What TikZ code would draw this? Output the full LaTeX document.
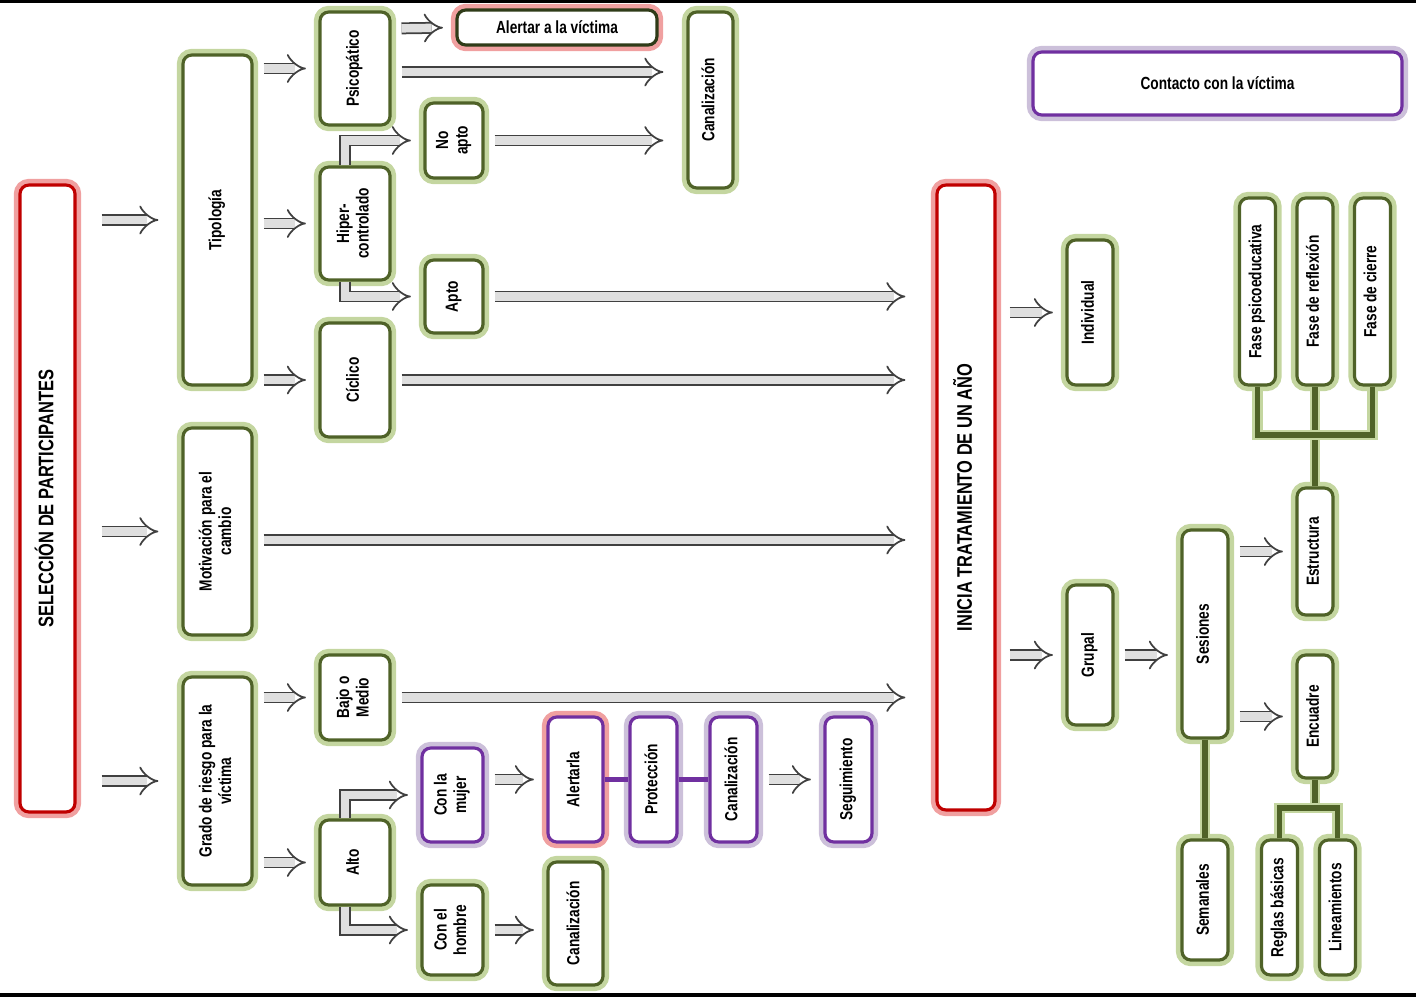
\documentclass[tikz,border=0pt]{standalone}
\usepackage{fontspec}
\setmainfont[FakeStretch=0.78]{Liberation Sans}
\usepackage{graphicx}
\usetikzlibrary{arrows.meta}

\definecolor{boxgreen}{RGB}{79,98,40}
\definecolor{glowgreen}{RGB}{196,214,160}
\definecolor{boxred}{RGB}{192,0,0}
\definecolor{glowred}{RGB}{240,160,160}
\definecolor{boxpurple}{RGB}{112,48,160}
\definecolor{glowpurple}{RGB}{204,192,218}

\newcommand{\vlabel}[1]{\rotatebox{90}{\begin{tabular}{@{}c@{}}#1\end{tabular}}}

\tikzset{
  box/.style={draw, fill=white, rounded corners=5pt, line width=1.8pt, inner sep=1pt,
    font=\bfseries\fontsize{10}{11}\selectfont},
  glow/.style={preaction={draw=#1, line width=7pt}},
  gbox/.style={box, draw=boxgreen, glow=glowgreen},
  rbox/.style={box, draw=boxred, glow=glowred},
  pbox/.style={box, draw=boxpurple, glow=glowpurple},
  fat/.style={double=gray!25, double distance=4.8pt, line width=1pt, draw=black!75,
    -{Implies}, shorten <=0.2cm, shorten >=0.25cm},
  tree/.style={line width=3pt, draw=boxgreen, preaction={draw=glowgreen, line width=6pt}},
}

\begin{document}
\begin{tikzpicture}[x=0.02cm, y=-0.02cm]
  \useasboundingbox (0,0) rectangle (1416,997);
  \fill[black] (0,0) rectangle (1416,3);
  \fill[black] (0,993) rectangle (1416,997);

  % primera columna
  \node[rbox, minimum width=1.1cm, minimum height=12.54cm, font=\bfseries\fontsize{12}{13}\selectfont]
    (sel) at (47.5, 498.5) {\vlabel{SELECCIÓN DE PARTICIPANTES}};

  \node[gbox, minimum width=1.38cm, minimum height=6.6cm] (tipo) at (217.5, 220) {\vlabel{Tipología}};
  \node[gbox, minimum width=1.38cm, minimum height=4.14cm] (motiv) at (217.5, 531.5) {\vlabel{Motivación para el\\cambio}};
  \node[gbox, minimum width=1.38cm, minimum height=4.16cm] (grado) at (217.5, 781) {\vlabel{Grado de riesgo para la\\víctima}};

  \node[gbox, minimum width=1.4cm, minimum height=2.26cm] (psico) at (355, 68.5) {\vlabel{Psicopático}};
  \node[gbox, minimum width=1.4cm, minimum height=2.26cm] (hiper) at (355, 223.5) {\vlabel{Hiper-\\controlado}};
  \node[gbox, minimum width=1.4cm, minimum height=2.28cm] (ciclo) at (355, 380) {\vlabel{Cíclico}};
  \node[gbox, minimum width=1.4cm, minimum height=1.7cm] (bajo) at (355, 697.5) {\vlabel{Bajo o\\Medio}};
  \node[gbox, minimum width=1.4cm, minimum height=1.7cm] (alto) at (355, 862.5) {\vlabel{Alto}};

  \node[box, draw=boxgreen!60!black, glow=glowred, minimum width=4cm, minimum height=0.7cm] (alertv) at (557, 27.5) {Alertar a la víctima};
  \node[gbox, minimum width=1.16cm, minimum height=1.5cm] (noapto) at (454, 140.5) {\vlabel{No\\apto}};
  \node[gbox, minimum width=1.16cm, minimum height=1.46cm] (apto) at (454, 296.5) {\vlabel{Apto}};
  \node[gbox, minimum width=0.9cm, minimum height=3.52cm] (canaltop) at (710.5, 100) {\vlabel{Canalización}};

  \node[pbox, minimum width=1.22cm, minimum height=1.88cm] (mujer) at (452.5, 795) {\vlabel{Con la\\mujer}};
  \node[gbox, minimum width=1.22cm, minimum height=1.8cm] (hombre) at (452.5, 930) {\vlabel{Con el\\hombre}};
  \node[box, draw=boxpurple, glow=glowred, minimum width=1.1cm, minimum height=2.5cm] (alertarla) at (575.5, 779.5) {\vlabel{Alertarla}};
  \node[pbox, minimum width=0.94cm, minimum height=2.5cm] (protec) at (653.5, 779.5) {\vlabel{Protección}};
  \node[pbox, minimum width=0.94cm, minimum height=2.5cm] (canalmid) at (733.5, 779.5) {\vlabel{Canalización}};
  \node[pbox, minimum width=0.94cm, minimum height=2.5cm] (segui) at (848.5, 779.5) {\vlabel{Seguimiento}};
  \node[gbox, minimum width=1.1cm, minimum height=2.46cm] (canalbot) at (575.5, 923.5) {\vlabel{Canalización}};

  % tratamiento
  \node[pbox, minimum width=7.38cm, minimum height=1.26cm] (contacto) at (1217.5, 83.5) {Contacto con la víctima};
  \node[rbox, minimum width=1.16cm, minimum height=12.5cm, font=\bfseries\fontsize{12}{13}\selectfont]
    (inicia) at (966, 497.5) {\vlabel{INICIA TRATAMIENTO DE UN AÑO}};
  \node[gbox, minimum width=0.92cm, minimum height=2.9cm] (indiv) at (1090, 312.5) {\vlabel{Individual}};
  \node[gbox, minimum width=0.92cm, minimum height=2.8cm] (grupal) at (1090, 655) {\vlabel{Grupal}};
  \node[gbox, minimum width=0.92cm, minimum height=4.16cm] (sesion) at (1205, 634) {\vlabel{Sesiones}};
  \node[gbox, minimum width=0.72cm, minimum height=2.54cm] (estruc) at (1315, 551.5) {\vlabel{Estructura}};
  \node[gbox, minimum width=0.72cm, minimum height=2.46cm] (encuad) at (1315, 716.5) {\vlabel{Encuadre}};
  \node[gbox, minimum width=0.92cm, minimum height=2.4cm] (seman) at (1205, 900) {\vlabel{Semanales}};
  \node[gbox, minimum width=0.72cm, minimum height=2.7cm] (reglas) at (1279.5, 907.5) {\vlabel{Reglas básicas}};
  \node[gbox, minimum width=0.72cm, minimum height=2.7cm] (linea) at (1337.5, 907.5) {\vlabel{Lineamientos}};
  \node[gbox, minimum width=0.72cm, minimum height=3.74cm] (fase1) at (1257.5, 291.5) {\vlabel{Fase psicoeducativa}};
  \node[gbox, minimum width=0.72cm, minimum height=3.74cm] (fase2) at (1315, 291.5) {\vlabel{Fase de reflexión}};
  \node[gbox, minimum width=0.72cm, minimum height=3.74cm] (fase3) at (1372.5, 291.5) {\vlabel{Fase de cierre}};

  \coordinate (fj) at (1315, 435);
  \coordinate (ej) at (1315, 808);

  % flechas
  \draw[fat, shorten <=0.5cm, shorten >=0.46cm] (sel.east |- tipo) -- (tipo.west);
  \draw[fat, shorten <=0.5cm, shorten >=0.46cm] (sel.east |- motiv) -- (motiv.west);
  \draw[fat, shorten <=0.5cm, shorten >=0.46cm] (sel.east |- grado) -- (grado.west);

  \draw[fat] (tipo.east |- psico.west) -- (psico.west);
  \draw[fat] (tipo.east |- hiper.west) -- (hiper.west);
  \draw[fat] (tipo.east |- ciclo.west) -- (ciclo.west);
  \draw[fat] ([yshift=0.8cm]psico.east) -- (alertv.west);
  \draw[fat, shorten >=0.46cm] ([yshift=-0.07cm]psico.east) -- ([yshift=-0.07cm]psico.east -| canaltop.west);
  \draw[fat, shorten <=0pt] ([xshift=-0.2cm]hiper.north) |- (noapto.west);
  \draw[fat, shorten <=0pt] ([xshift=-0.2cm]hiper.south) |- (apto.west);
  \draw[fat, shorten >=0.46cm] (noapto.east) -- (noapto.east -| canaltop.west);
  \draw[fat, shorten >=0.6cm] (apto.east) -- (apto.east -| inicia.west);
  \draw[fat, shorten >=0.6cm] (ciclo.east) -- (ciclo.east -| inicia.west);
  \draw[fat, shorten >=0.6cm] ([yshift=-0.17cm]motiv.east) -- ([yshift=-0.17cm]motiv.east -| inicia.west);

  \draw[fat] (grado.east |- bajo.west) -- (bajo.west);
  \draw[fat] (grado.east |- alto.west) -- (alto.west);
  \draw[fat, shorten >=0.6cm] (bajo.east) -- (bajo.east -| inicia.west);
  \draw[fat, shorten <=0pt] ([xshift=-0.2cm]alto.north) |- (mujer.west);
  \draw[fat, shorten <=0pt] ([xshift=-0.2cm]alto.south) |- (hombre.west);
  \draw[fat] (mujer.east |- alertarla) -- (alertarla.west);
  \draw[fat] (hombre.east) -- (hombre.east -| canalbot.west);
  \draw[line width=2.5pt, boxpurple] (alertarla.east) -- (protec.west);
  \draw[line width=2.5pt, boxpurple] (protec.east) -- (canalmid.west);
  \draw[fat] (canalmid.east) -- (segui.west);

  \draw[fat, shorten <=0.26cm] (inicia.east |- indiv) -- (indiv.west);
  \draw[fat, shorten <=0.26cm] (inicia.east |- grupal) -- (grupal.west);
  \draw[fat] (grupal.east) -- (grupal.east -| sesion.west);
  \draw[fat] (sesion.east |- estruc) -- (estruc.west);
  \draw[fat] (sesion.east |- encuad) -- (encuad.west);

  % lineas del arbol
  \draw[tree] (sesion.south) -- (seman.north);
  \draw[tree] (fase2.south) -- (estruc.north);
  \draw[tree] (fase1.south) |- (fase3.south |- fj) -- (fase3.south);
  \draw[tree] (encuad.south) -- (ej);
  \draw[tree] (reglas.north) |- (linea.north |- ej) -- (linea.north);
\end{tikzpicture}
\end{document}
